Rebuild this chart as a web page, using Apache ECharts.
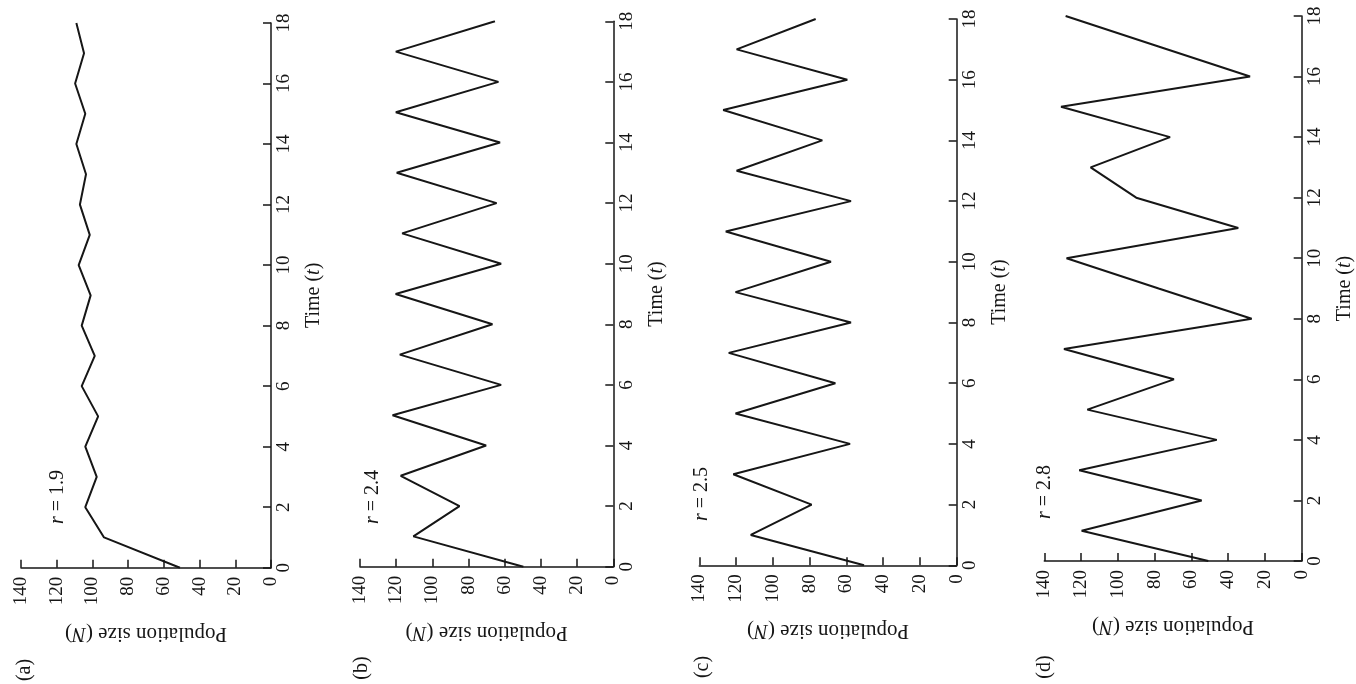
<!DOCTYPE html>
<html>
<head>
<meta charset="utf-8">
<script src="https://cdn.jsdelivr.net/npm/echarts@6/dist/echarts.min.js"></script>
<style>
  html, body { margin: 0; padding: 0; background: #fff; }
  #chart { width: 1356px; height: 684px; }
</style>
</head>
<body>
<div id="chart"></div>
<script>
// Discrete logistic growth for four growth rates, drawn with the time axis running upward
// and population size increasing to the left.
const timeSteps = [0, 1, 2, 3, 4, 5, 6, 7, 8, 9, 10, 11, 12, 13, 14, 15, 16, 17, 18];
const popA = [51, 93.5, 104, 97.6, 104, 96.8, 106, 98.7, 106, 101, 107.7, 101.5, 107, 103.6, 109, 104, 109.7, 104.7, 109];
const popB = [49.7, 110.5, 85, 117.5, 70.3, 122, 62, 118, 66.8, 120.3, 62, 116.7, 64.5, 119.7, 62.6, 120.2, 63.5, 120.2, 65.4];
const popC = [50.4, 112, 78.9, 121.5, 58, 120.3, 66, 124, 57.5, 120.3, 68.4, 125.6, 57.5, 119.7, 73.1, 127, 59.5, 119.7, 76.7];
const popD = [50.8, 119.7, 54.4, 121, 46.2, 116.6, 69.5, 129.3, 27.2, 77.8, 127.9, 34.5, 90, 114.8, 71.6, 130.9, 28.1, 78.3, 128.4];
const rateLabels = ['1.9', '2.4', '2.5', '2.8'];
const panelLetters = ['a', 'b', 'c', 'd'];
const popTicks = { min: 0, max: 140, interval: 20 };
const timeTicks = { min: 0, max: 18, interval: 2 };

const series4 = [popA, popB, popC, popD];

// Panel placement (pixels)
const layout = [
  { left: 21,    top: 23,   width: 250,   height: 544.7, letter: [25, 670],  rate: [58, 497] },
  { left: 360,   top: 21.3, width: 253.3, height: 545.4, letter: [362, 668], rate: [373, 497] },
  { left: 699.3, top: 19,   width: 257.4, height: 546.3, letter: [703, 667], rate: [702, 494] },
  { left: 1044.3,top: 16,   width: 257.4, height: 545,   letter: [1045, 667],rate: [1045, 492] }
];

const FONT = '"Liberation Serif", "Times New Roman", "DejaVu Serif", serif';
const INK = '#161616';

const grid = [], xAxis = [], yAxis = [], series = [], graphic = [];

layout.forEach((p, i) => {
  grid.push({ left: p.left, top: p.top, width: p.width, height: p.height, containLabel: false, outerBoundsMode: 'none' });

  xAxis.push({
    gridIndex: i, type: 'value', min: popTicks.min, max: popTicks.max, interval: popTicks.interval,
    inverse: true, position: 'bottom',
    axisLine: { onZero: false, lineStyle: { color: INK, width: 1.5 } },
    axisTick: { inside: true, length: 8, lineStyle: { color: INK, width: 1.5 } },
    axisLabel: { rotate: 90, margin: 9, color: INK, fontFamily: FONT, fontSize: 19 },
    splitLine: { show: false },
    name: 'Population size ({n|N})', nameLocation: 'middle', nameRotate: 180, nameGap: 55,
    nameMoveOverlap: false,
    nameTextStyle: {
      color: INK, fontFamily: FONT, fontSize: 21,
      rich: { n: { fontStyle: 'italic', fontFamily: FONT, fontSize: 21, color: INK } }
    }
  });

  yAxis.push({
    gridIndex: i, type: 'value', min: timeTicks.min, max: timeTicks.max, interval: timeTicks.interval,
    position: 'right',
    axisLine: { onZero: false, lineStyle: { color: INK, width: 1.5 } },
    axisTick: { inside: true, length: 8, lineStyle: { color: INK, width: 1.5 } },
    axisLabel: { rotate: 90, margin: 4, color: INK, fontFamily: FONT, fontSize: 19 },
    splitLine: { show: false },
    name: 'Time ({t|t})', nameLocation: 'middle', nameRotate: 90, nameGap: 33,
    nameMoveOverlap: false,
    nameTextStyle: {
      color: INK, fontFamily: FONT, fontSize: 20,
      rich: { t: { fontStyle: 'italic', fontFamily: FONT, fontSize: 20, color: INK } }
    }
  });

  series.push({
    type: 'line', xAxisIndex: i, yAxisIndex: i,
    data: series4[i].map((n, k) => [n, timeSteps[k]]),
    showSymbol: false, symbol: 'none', silent: true,
    lineStyle: { color: INK, width: 2 }
  });

  graphic.push({
    type: 'text', x: p.letter[0], y: p.letter[1], rotation: Math.PI / 2,
    style: { text: '(' + panelLetters[i] + ')', fontFamily: FONT, fontSize: 20, fill: INK, align: 'center', verticalAlign: 'middle' }
  });
  graphic.push({
    type: 'text', x: p.rate[0], y: p.rate[1], rotation: Math.PI / 2,
    style: {
      text: '{i|r} = ' + rateLabels[i], fontFamily: FONT, fontSize: 20, fill: INK, align: 'center', verticalAlign: 'middle',
      rich: { i: { fontStyle: 'italic', fontFamily: FONT, fontSize: 20, fill: INK } }
    }
  });
});

const chart = echarts.init(document.getElementById('chart'), null, { renderer: 'canvas' });
chart.setOption({
  backgroundColor: '#ffffff',
  animation: false,
  grid, xAxis, yAxis, series, graphic
});
</script>
</body>
</html>
